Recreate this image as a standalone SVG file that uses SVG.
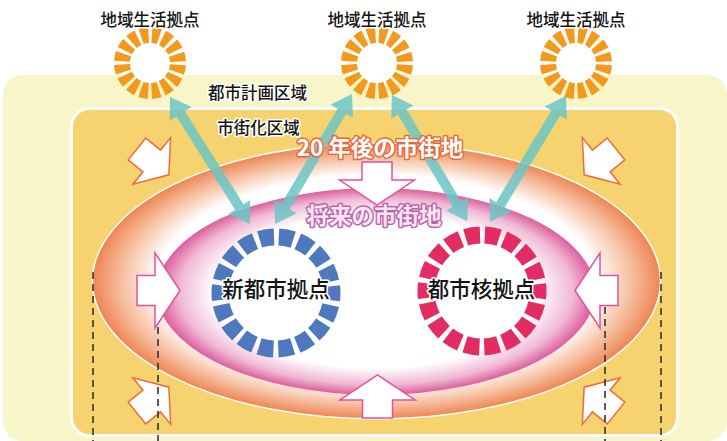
<svg xmlns="http://www.w3.org/2000/svg" width="727" height="441" viewBox="0 0 727 441">
<defs>
<radialGradient id="gOuter" cx="0.5" cy="0.5" r="0.5">
<stop offset="0" stop-color="#ffffff"/>
<stop offset="0.77" stop-color="#ffffff"/>
<stop offset="0.9" stop-color="#F6BE9E"/>
<stop offset="1" stop-color="#EE8453"/>
</radialGradient>
<radialGradient id="gPink" cx="0.5" cy="0.5" r="0.5">
<stop offset="0" stop-color="#ffffff"/>
<stop offset="0.74" stop-color="#ffffff"/>
<stop offset="0.9" stop-color="#F0B8D4"/>
<stop offset="1" stop-color="#DC5E9D"/>
</radialGradient>
<polygon id="cornerArrow" points="0,-14 19,-14 19,-30 41,0 19,30 19,14 0,14"/>
<polygon id="midArrow" points="0,-15 18,-15 18,-37.5 43,0 18,37.5 18,15 0,15"/>
</defs>
<style>
.lbl{font-family:"Noto Sans CJK JP","Noto Sans",sans-serif;font-size:16.5px;font-weight:500;fill:#141414;stroke:#ffffff;stroke-width:3;paint-order:stroke;stroke-linejoin:round;text-anchor:middle}
.node{font-family:"Noto Sans CJK JP","Noto Sans",sans-serif;font-size:21.5px;font-weight:500;fill:#141414;stroke:#ffffff;stroke-width:3;paint-order:stroke;stroke-linejoin:round;text-anchor:middle}
.t20{font-family:"Noto Sans CJK JP","Noto Sans",sans-serif;font-size:22.5px;font-weight:bold;fill:#ffffff;stroke:#E8673A;stroke-width:3;paint-order:stroke;stroke-linejoin:round;text-anchor:middle}
.tfut{font-family:"Noto Sans CJK JP","Noto Sans",sans-serif;font-size:22.5px;font-weight:bold;fill:#FCE6F2;stroke:#B862AE;stroke-width:3;paint-order:stroke;stroke-linejoin:round;text-anchor:middle}
.oring{fill:none;stroke:#F39A1E;stroke-width:16;stroke-dasharray:7.6 3.396;stroke-dashoffset:9.3}
.bring{fill:none;stroke:#4F79BE;stroke-width:17;stroke-dasharray:14.66 4.888;stroke-dashoffset:7.33}
.rring{fill:none;stroke:#E32D62;stroke-width:17;stroke-dasharray:14.66 4.888;stroke-dashoffset:7.33}
.teal{fill:#6BC4C6;opacity:0.85}
.ca{fill:#ffffff;stroke:#EE6B3B;stroke-width:1.5;stroke-linejoin:miter}
.ma{fill:#ffffff;stroke:#E4509A;stroke-width:1.5;stroke-linejoin:miter}
.dash{stroke:#333333;stroke-width:1.6;stroke-dasharray:7 5;fill:none}
</style>

<g id="planning-area">
<rect x="3" y="75" width="724" height="366" rx="20" fill="#F8F5C8"/>
<text class="lbl" x="257.5" y="99">都市計画区域</text>
</g>
<g id="urbanization-area">
<rect x="71.5" y="108.5" width="606" height="327" rx="18" fill="#F6D36E" stroke="#ffffff" stroke-width="3"/>
<text class="lbl" x="258.5" y="134">市街化区域</text>
</g>
<g id="urban-20y">
<ellipse cx="376.5" cy="281" rx="284" ry="138" fill="url(#gOuter)" stroke="#ffffff" stroke-width="1.5"/>
</g>
<g id="urban-future">
<ellipse cx="376" cy="291.5" rx="219" ry="103.5" fill="url(#gPink)"/>
</g>

<g id="hub-new">
<circle cx="276" cy="293" r="48" fill="#ffffff"/>
<circle class="bring" cx="276" cy="293" r="56"/>
<text class="node" x="276" y="297">新都市拠点</text>
</g>
<g id="hub-core">
<circle cx="482" cy="291" r="48" fill="#ffffff"/>
<circle class="rring" cx="482" cy="291" r="56"/>
<text class="node" x="481.5" y="297">都市核拠点</text>
</g>

<g id="local-1">
<circle cx="150" cy="63" r="21" fill="#ffffff"/>
<circle class="oring" cx="150" cy="63" r="28"/>
<text class="lbl" x="150" y="26">地域生活拠点</text>
</g>
<g id="local-2">
<circle cx="377" cy="63" r="21" fill="#ffffff"/>
<circle class="oring" cx="377" cy="63" r="28"/>
<text class="lbl" x="377" y="26">地域生活拠点</text>
</g>
<g id="local-3">
<circle cx="576" cy="63" r="21" fill="#ffffff"/>
<circle class="oring" cx="576" cy="63" r="28"/>
<text class="lbl" x="576" y="26">地域生活拠点</text>
</g>

<g id="connectors">
<polygon class="teal" transform="translate(170,97) rotate(57.8)" points="0,0 20,-13 20,-5 130,-5 130,-13 150,0 130,13 130,5 20,5 20,13"/>
<polygon class="teal" transform="translate(352,94) rotate(120.6)" points="0,0 20,-13 20,-5 131,-5 131,-13 151,0 131,13 131,5 20,5 20,13"/>
<polygon class="teal" transform="translate(392,95) rotate(59.2)" points="0,0 20,-13 20,-5 127,-5 127,-13 147,0 127,13 127,5 20,5 20,13"/>
<polygon class="teal" transform="translate(566,96) rotate(121.1)" points="0,0 20,-13 20,-5 127,-5 127,-13 147,0 127,13 127,5 20,5 20,13"/>
</g>

<g id="inflow-arrows">
<use href="#cornerArrow" class="ca" transform="translate(137,149) rotate(39)"/>
<use href="#cornerArrow" class="ca" transform="translate(616,149) rotate(141)"/>
<use href="#cornerArrow" class="ca" transform="translate(137,413) rotate(-39)"/>
<use href="#cornerArrow" class="ca" transform="translate(616,413) rotate(-141)"/>
<use href="#midArrow" class="ma" transform="translate(137,290.5)"/>
<use href="#midArrow" class="ma" transform="translate(618,290.5) rotate(180)"/>
<use href="#midArrow" class="ma" transform="translate(377,162) rotate(90)"/>
<use href="#midArrow" class="ma" transform="translate(377.5,418) rotate(-90)"/>
</g>

<g id="labels">
<text class="t20" x="380" y="156">20 年後の市街地</text>
<text class="tfut" x="374" y="224">将来の市街地</text>
</g>

<g id="boundaries">
<line class="dash" x1="93" y1="272" x2="93" y2="441"/>
<line class="dash" x1="158" y1="327" x2="158" y2="441"/>
<line class="dash" x1="605" y1="307" x2="605" y2="441"/>
<line class="dash" x1="661" y1="272" x2="661" y2="441"/>
</g>
</svg>
